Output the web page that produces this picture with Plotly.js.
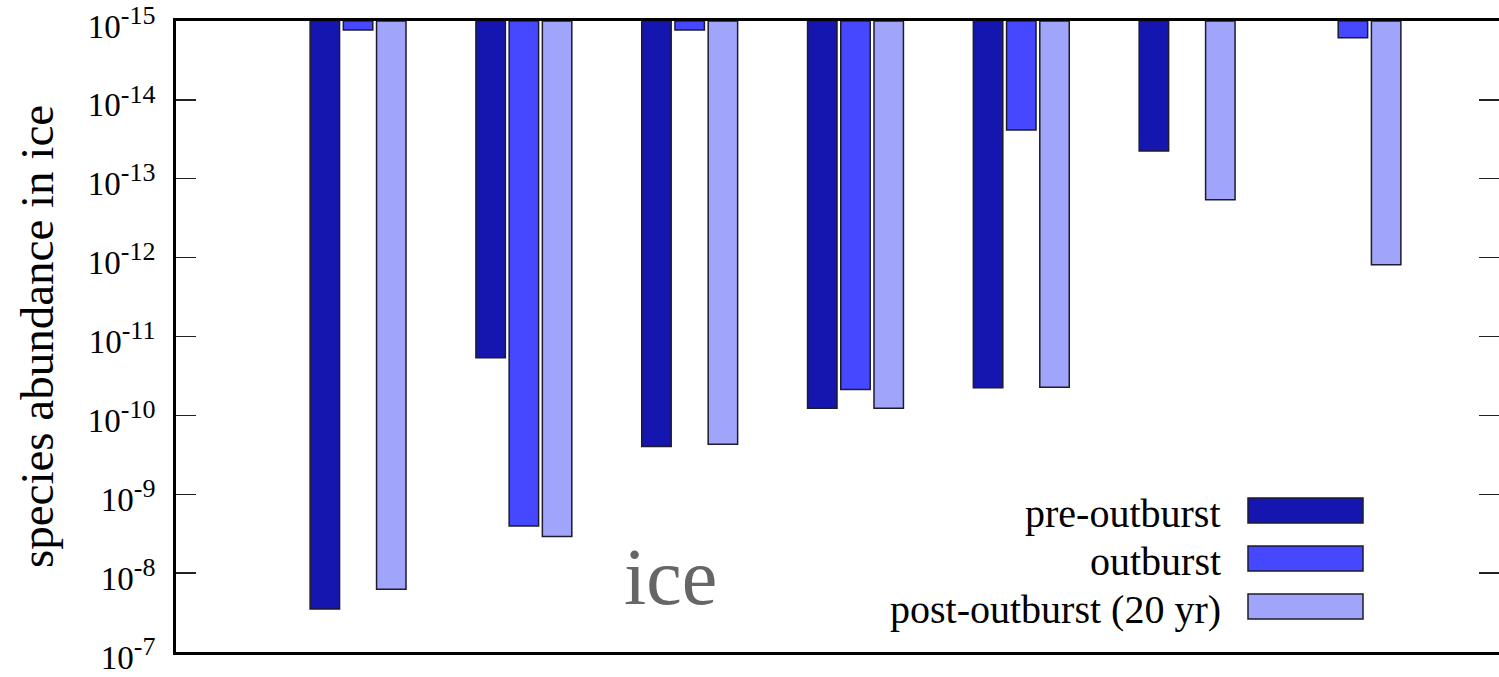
<!DOCTYPE html>
<html>
<head>
<meta charset="utf-8">
<script src="https://cdn.plot.ly/plotly-3.0.1.min.js"></script>
<style>
  html, body { margin: 0; padding: 0; background: #fff; }
  #chart { width: 1499px; height: 677px; }
</style>
</head>
<body>
<div id="chart"></div>
<script>
// ---- data ----
const groups = [0, 1, 2, 3, 4, 5, 6];
const seriesNames = ["pre-outburst", "outburst", "post-outburst (20 yr)"];
const preOutburst  = [2.86e-8, 1.86e-11, 2.49e-10, 8.15e-11, 4.46e-11, 4.43e-14, null];
const outburst     = [1.30e-15, 2.52e-9, 1.30e-15, 4.69e-11, 2.40e-14, null, 1.63e-15];
const postOutburst = [1.60e-8, 3.43e-9, 2.33e-10, 8.15e-11, 4.39e-11, 1.85e-13, 1.23e-12];
const seriesColors = ["#1515B0", "#4648FF", "#A0A4FA"];
const tickExps = [-15, -14, -13, -12, -11, -10, -9, -8, -7];
const yTitle = "species abundance in ice";
const panelLabel = "ice";

// ---- layout constants ----
const W = 1499, H = 677;
const L = 176, T = 21, B = 25, R = 0;
const plotW = W - L - R, plotH = H - T - B;
const topVal = 1e-15;
const px2x = px => (px - L) / plotW;
const py2y = py => (H - B - py) / plotH;

const seriesData = [preOutburst, outburst, postOutburst];
const traces = seriesData.map((vals, i) => ({
  type: "bar",
  name: seriesNames[i],
  x: groups,
  base: vals.map(v => (v == null ? null : topVal)),
  y: vals.map(v => (v == null ? null : v - topVal)),
  marker: { color: seriesColors[i], line: { color: "#1c1c2c", width: 1.5 } },
  showlegend: false,
  hoverinfo: "skip"
}));
// invisible trace to carry the right-hand tick marks
traces.push({ type: "scatter", x: [0], y: [1e-10], yaxis: "y2", mode: "markers",
  marker: { opacity: 0 }, showlegend: false, hoverinfo: "skip" });

const tickText = tickExps.map(e =>
  "10<sup><span style='font-size:26px'>" + e + "</span></sup>");
const tickVals = tickExps.map(e => Number("1e" + e));
const yRange = [-6.9995, -15.0005];

// manual legend (text on the left, swatch on the right)
const shapes = [];
const annotations = [];
const rowCenters = [510.5, 558.5, 606.5];
seriesNames.forEach((nm, i) => {
  const cy = rowCenters[i];
  shapes.push({ type: "rect", xref: "paper", yref: "paper",
    x0: px2x(1248), x1: px2x(1363), y0: py2y(cy + 12.5), y1: py2y(cy - 12.5),
    fillcolor: seriesColors[i], line: { color: "#1c1c2c", width: 1.5 } });
  annotations.push({ xref: "paper", yref: "paper", x: px2x(1223), y: py2y(cy + 3),
    xanchor: "right", yanchor: "middle", text: nm, showarrow: false,
    font: { family: "Liberation Serif", size: 40, color: "#000" } });
});
annotations.push({ xref: "paper", yref: "paper", x: px2x(670), y: py2y(577),
  xanchor: "center", yanchor: "middle", text: panelLabel, showarrow: false,
  font: { family: "Liberation Serif", size: 80, color: "#666666" } });

const layout = {
  width: W, height: H,
  margin: { l: L, r: R, t: T, b: B, pad: 0 },
  paper_bgcolor: "#fff", plot_bgcolor: "#fff",
  barmode: "group", bargap: 0.399, bargroupgap: 0.113,
  font: { family: "Liberation Serif", color: "#000" },
  xaxis: {
    range: [-1.098, 6.881], showticklabels: false, ticks: "",
    showgrid: false, zeroline: false,
    showline: true, linecolor: "#000", linewidth: 3, mirror: true
  },
  yaxis: {
    type: "log", range: yRange, autorange: false,
    tickvals: tickVals, ticktext: tickText,
    ticks: "inside", ticklen: 20, tickwidth: 1.3, tickcolor: "#222",
    tickfont: { family: "Liberation Serif", size: 33, color: "#000" },
    ticklabelstandoff: 11, ticklabeloverflow: "allow", ticklabelshift: -5,
    showgrid: false, zeroline: false,
    showline: true, linecolor: "#000", linewidth: 3, mirror: false,
    title: { text: yTitle, font: { family: "Liberation Serif", size: 47, color: "#000" }, standoff: 20 },
    automargin: false
  },
  yaxis2: {
    type: "log", range: yRange, autorange: false, overlaying: "y", side: "right",
    tickvals: tickVals, showticklabels: false,
    ticks: "inside", ticklen: 20, tickwidth: 1.3, tickcolor: "#222",
    showgrid: false, zeroline: false, showline: false
  },
  shapes: shapes,
  annotations: annotations,
  showlegend: false
};

Plotly.newPlot("chart", traces, layout, { staticPlot: true, displayModeBar: false });
</script>
</body>
</html>
